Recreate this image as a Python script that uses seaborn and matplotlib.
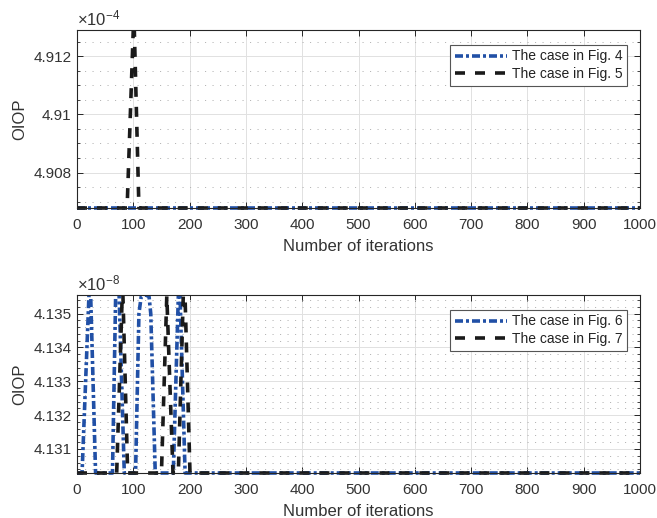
import matplotlib
matplotlib.use("Agg")
import matplotlib.pyplot as plt
import seaborn as sns
import numpy as np
import pandas as pd
from matplotlib.ticker import MultipleLocator, FuncFormatter, FixedLocator
from matplotlib.transforms import Bbox, TransformedBbox

# ---------------- data ----------------
# top panel (OIOP in units of 1e-4)
top_base = 4.90678
top_x_fig4 = [0, 1000]
top_y_fig4 = [top_base, top_base]
top_x_fig5 = [0, 89, 101, 110, 1000]
top_y_fig5 = [top_base, top_base, 4.9135, top_base, top_base]
top_ylim = (4.90678, 4.9129)
top_labels = ["The case in Fig. 4", "The case in Fig. 5"]

# bottom panel (OIOP in units of 1e-8)
bot_base = 4.13029
bot_x_fig6 = [0, 9, 23, 33, 63, 71, 84, 104, 110, 114, 121, 128, 131, 139, 171, 181.5, 192, 1000]
bot_y_fig6 = [bot_base, bot_base, 4.1363, bot_base, bot_base, 4.1377, bot_base, bot_base,
              4.1350, 4.13550, 4.13556, 4.13550, 4.1350, bot_base, bot_base, 4.1364, bot_base, bot_base]
bot_x_fig7 = [0, 70.5, 81, 90, 150, 159.5, 170.5, 180, 190.3, 200.7, 1000]
bot_y_fig7 = [bot_base, bot_base, 4.1359, bot_base, bot_base, 4.13553, bot_base, bot_base,
              4.13645, bot_base, bot_base]
bot_ylim = (4.13029, 4.13555)
bot_labels = ["The case in Fig. 6", "The case in Fig. 7"]

x_ticks = [0, 100, 200, 300, 400, 500, 600, 700, 800, 900, 1000]
xlabel = "Number of iterations"
ylabel = "OIOP"

# ---------------- style ----------------
sns.set_theme(style="white")
plt.rcParams["font.family"] = ["Liberation Sans", "DejaVu Sans"]
plt.rcParams["mathtext.default"] = "regular"
plt.rcParams["lines.scale_dashes"] = False

TXT = "#262626"
BLUE = "#2150a6"
BLACK = "#1a1a1a"
PX = 72 / 100.0  # points per pixel at dpi 100

fig = plt.figure(figsize=(6.57, 5.18), dpi=100)
ax1 = fig.add_axes([77 / 657, (518 - 208) / 518, 563 / 657, 178 / 518])
ax2 = fig.add_axes([77 / 657, (518 - 473) / 518, 563 / 657, 178 / 518])


def draw(ax, xb, yb, xk, yk, labels, ylim, major, minor, exp):
    dfb = pd.DataFrame({"x": xb, "y": yb})
    dfk = pd.DataFrame({"x": xk, "y": yk})
    sns.lineplot(data=dfb, x="x", y="y", ax=ax, color=BLUE, linewidth=2.6,
                 sort=False, estimator=None, label=labels[0], legend=False)
    sns.lineplot(data=dfk, x="x", y="y", ax=ax, color=BLACK, linewidth=2.6,
                 sort=False, estimator=None, label=labels[1], legend=False)
    lb, lk = ax.lines[-2], ax.lines[-1]
    lb.set_dashes([8 * PX, 3 * PX, 3 * PX, 3 * PX])
    lk.set_dashes([10 * PX, 10 * PX])
    clip = TransformedBbox(Bbox([[0, -0.025], [1, 1]]), ax.transAxes)
    for ln in (lb, lk):
        ln.set_clip_box(clip)
        ln.set_solid_capstyle("butt")
        ln.set_dash_capstyle("butt")

    ax.set_xlim(0, 1000)
    ax.set_ylim(*ylim)
    ax.xaxis.set_major_locator(FixedLocator(x_ticks))
    ax.yaxis.set_major_locator(MultipleLocator(major))
    ax.yaxis.set_minor_locator(MultipleLocator(minor))
    ax.yaxis.set_major_formatter(FuncFormatter(lambda v, p: f"{v:.6g}"))
    ax.xaxis.set_major_formatter(FuncFormatter(lambda v, p: f"{v:g}"))

    ax.set_axisbelow(True)
    ax.grid(which="major", axis="both", color="#e1e1e1", linewidth=0.7, linestyle="-")
    ax.grid(which="minor", axis="y", color="#b5b5b5", linewidth=0.7, linestyle=(0, (0.8, 4.6)))

    for s in ax.spines.values():
        s.set_visible(True)
        s.set_color(TXT)
        s.set_linewidth(0.8)
    ax.tick_params(which="both", direction="in", top=True, right=True, left=True, bottom=True,
                   colors=TXT, labelcolor="#333333")
    ax.tick_params(which="major", length=4, width=0.7, labelsize=11)
    ax.tick_params(axis="x", which="major", pad=7)
    ax.tick_params(axis="y", which="major", pad=4)
    ax.tick_params(which="minor", length=2.2, width=0.6)
    ax.tick_params(axis="x", which="minor", bottom=False, top=False)

    ax.set_xlabel(xlabel, fontsize=12, color="#333333", labelpad=5)
    ax.set_ylabel(ylabel, fontsize=12, color="#333333")
    ax.yaxis.set_label_coords(-0.088, 0.5)

    ax.text(0.0, 1.008, r"$\times10^{%d}$" % exp, transform=ax.transAxes,
            ha="left", va="bottom", fontsize=12, color="#333333")

    leg = ax.legend(handles=[lb, lk], labels=labels, loc="upper right",
                    bbox_to_anchor=(0.977, 0.918), borderaxespad=0, fontsize=10,
                    handlelength=3.75, handletextpad=0.35, borderpad=0.35,
                    labelspacing=0.25, fancybox=False, framealpha=1,
                    edgecolor="#555555")
    leg.get_frame().set_linewidth(0.8)
    for t in leg.get_texts():
        t.set_color("#222222")


draw(ax1, top_x_fig4, top_y_fig4, top_x_fig5, top_y_fig5, top_labels, top_ylim, 0.002, 0.0005, -4)
draw(ax2, bot_x_fig6, bot_y_fig6, bot_x_fig7, bot_y_fig7, bot_labels, bot_ylim, 0.001, 0.0002, -8)

fig.savefig("out.png", dpi=100)
